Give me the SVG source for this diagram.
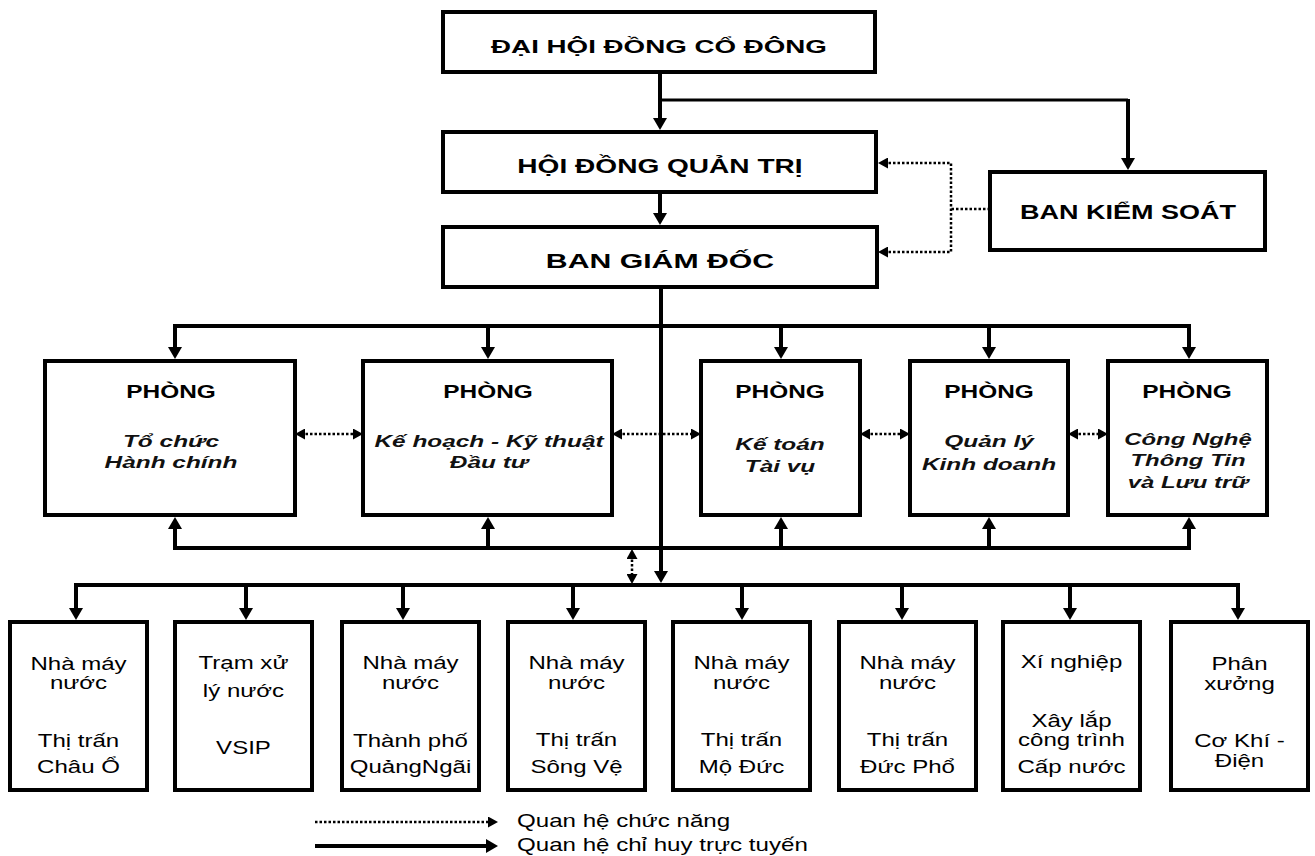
<svg xmlns="http://www.w3.org/2000/svg" width="1315" height="856" viewBox="0 0 1315 856">
<style>
.box{fill:#fff;stroke:#000;stroke-width:4}
.conn{fill:none;stroke:#000;stroke-width:4}
.thin{fill:none;stroke:#000;stroke-width:3}
.dot{fill:none;stroke:#000;stroke-width:2.5;stroke-dasharray:2.5 2}
.ti{font-family:"Liberation Sans",Arial,sans-serif;font-weight:bold;text-anchor:middle;fill:#000}
.ph{font-family:"Liberation Sans",Arial,sans-serif;font-weight:bold;font-size:18.5px;text-anchor:middle;fill:#000}
.it{font-family:"Liberation Sans",Arial,sans-serif;font-weight:bold;font-style:italic;font-size:16.5px;text-anchor:middle;fill:#111}
.sm{font-family:"Liberation Sans",Arial,sans-serif;font-size:18.5px;text-anchor:middle;fill:#000}
.lg{font-family:"Liberation Sans",Arial,sans-serif;font-size:18px;fill:#000}
</style>
<defs>
<marker id="ah" markerUnits="userSpaceOnUse" markerWidth="12" markerHeight="14" refX="6" refY="7" orient="auto-start-reverse"><path d="M0,0 L12,7 L0,14 z" fill="#000"/></marker>
<marker id="ad" markerUnits="userSpaceOnUse" markerWidth="10" markerHeight="11" refX="4" refY="5.5" orient="auto-start-reverse"><path d="M0,0 L10,5.5 L0,11 z" fill="#000"/></marker>
</defs>

<g id="connectors">
<path class="conn" d="M660,72 V124" marker-end="url(#ah)"/>
<path class="thin" d="M660,100 H1128"/>
<path class="conn" d="M1128,99 V164" marker-end="url(#ah)"/>
<path class="conn" d="M660,192 V219" marker-end="url(#ah)"/>
<path class="conn" d="M661,287 V577" marker-end="url(#ah)"/>
<path class="dot" d="M884,163 H951 V252 H884" marker-start="url(#ad)" marker-end="url(#ad)"/>
<path class="dot" d="M990,209 H951"/>
<path class="conn" d="M175,353 V326 H1189 V353" marker-start="url(#ah)" marker-end="url(#ah)"/>
<path class="conn" d="M488,326 V353" marker-end="url(#ah)"/>
<path class="conn" d="M781,326 V353" marker-end="url(#ah)"/>
<path class="conn" d="M989,326 V353" marker-end="url(#ah)"/>
<path class="conn" d="M175,523 V548 H1189 V523" marker-start="url(#ah)" marker-end="url(#ah)"/>
<path class="conn" d="M488,548 V523" marker-end="url(#ah)"/>
<path class="conn" d="M781,548 V523" marker-end="url(#ah)"/>
<path class="conn" d="M989,548 V523" marker-end="url(#ah)"/>
<path class="dot" d="M301,434 H357" marker-start="url(#ad)" marker-end="url(#ad)"/>
<path class="dot" d="M618,434 H695" marker-start="url(#ad)" marker-end="url(#ad)"/>
<path class="dot" d="M866,434 H904" marker-start="url(#ad)" marker-end="url(#ad)"/>
<path class="dot" d="M1074,434 H1102" marker-start="url(#ad)" marker-end="url(#ad)"/>
<path class="dot" d="M632,555 V578" marker-start="url(#ad)" marker-end="url(#ad)"/>
<path class="conn" d="M76,614 V585 H1238 V614" marker-start="url(#ah)" marker-end="url(#ah)"/>
<path class="conn" d="M246,585 V614" marker-end="url(#ah)"/>
<path class="conn" d="M403,585 V614" marker-end="url(#ah)"/>
<path class="conn" d="M573,585 V614" marker-end="url(#ah)"/>
<path class="conn" d="M742,585 V614" marker-end="url(#ah)"/>
<path class="conn" d="M902,585 V614" marker-end="url(#ah)"/>
<path class="conn" d="M1070,585 V614" marker-end="url(#ah)"/>
</g>

<g id="dhdcd">
<rect class="box" x="443" y="12" width="432" height="60"/>
<text class="ti" font-size="19" transform="translate(659,53) scale(1.46,1)">ĐẠI HỘI ĐỒNG CỔ ĐÔNG</text>
</g>
<g id="hdqt">
<rect class="box" x="443" y="132" width="433" height="60"/>
<text class="ti" font-size="19.5" transform="translate(660,173) scale(1.44,1)">HỘI ĐỒNG QUẢN TRỊ</text>
</g>
<g id="bgd">
<rect class="box" x="443" y="227" width="434" height="60"/>
<text class="ti" font-size="21" transform="translate(660,268) scale(1.44,1)">BAN GIÁM ĐỐC</text>
</g>
<g id="bks">
<rect class="box" x="990" y="172" width="275" height="78"/>
<text class="ti" font-size="20" transform="translate(1128,219) scale(1.35,1)">BAN KIỂM SOÁT</text>
</g>

<g id="p1">
<rect class="box" x="45" y="361" width="250" height="154"/>
<text class="ph" transform="translate(171,398) scale(1.32,1)">PHÒNG</text>
<text class="it" transform="translate(171,447) scale(1.48,1)">Tổ chức</text>
<text class="it" transform="translate(171,468) scale(1.48,1)">Hành chính</text>
</g>
<g id="p2">
<rect class="box" x="363" y="361" width="249" height="154"/>
<text class="ph" transform="translate(488,398) scale(1.32,1)">PHÒNG</text>
<text class="it" transform="translate(489,447) scale(1.48,1)">Kế hoạch - Kỹ thuật</text>
<text class="it" transform="translate(489,468) scale(1.48,1)">Đầu tư</text>
</g>
<g id="p3">
<rect class="box" x="701" y="361" width="159" height="154"/>
<text class="ph" transform="translate(780,398) scale(1.32,1)">PHÒNG</text>
<text class="it" transform="translate(780,450) scale(1.48,1)">Kế toán</text>
<text class="it" transform="translate(780,472) scale(1.48,1)">Tài vụ</text>
</g>
<g id="p4">
<rect class="box" x="910" y="361" width="158" height="154"/>
<text class="ph" transform="translate(989,398) scale(1.32,1)">PHÒNG</text>
<text class="it" transform="translate(989,447) scale(1.48,1)">Quản lý</text>
<text class="it" transform="translate(989,470) scale(1.48,1)">Kinh doanh</text>
</g>
<g id="p5">
<rect class="box" x="1108" y="361" width="159" height="154"/>
<text class="ph" transform="translate(1187,398) scale(1.32,1)">PHÒNG</text>
<text class="it" transform="translate(1188,445) scale(1.45,1)">Công Nghệ</text>
<text class="it" transform="translate(1188,466) scale(1.45,1)">Thông Tin</text>
<text class="it" transform="translate(1188,488) scale(1.45,1)">và Lưu trữ</text>
</g>

<g id="b1">
<rect class="box" x="10" y="622" width="137" height="168"/>
<text class="sm" transform="translate(78.5,670) scale(1.3,1)">Nhà máy</text>
<text class="sm" transform="translate(78.5,689) scale(1.3,1)">nước</text>
<text class="sm" transform="translate(78.5,747) scale(1.3,1)">Thị trấn</text>
<text class="sm" transform="translate(78.5,773) scale(1.3,1)">Châu Ổ</text>
</g>
<g id="b2">
<rect class="box" x="175" y="622" width="137" height="168"/>
<text class="sm" transform="translate(243.5,669) scale(1.3,1)">Trạm xử</text>
<text class="sm" transform="translate(243.5,697) scale(1.3,1)">lý nước</text>
<text class="sm" transform="translate(243.5,754) scale(1.3,1)">VSIP</text>
</g>
<g id="b3">
<rect class="box" x="342" y="622" width="137" height="168"/>
<text class="sm" transform="translate(410.5,669) scale(1.3,1)">Nhà máy</text>
<text class="sm" transform="translate(410.5,689) scale(1.3,1)">nước</text>
<text class="sm" transform="translate(410.5,747) scale(1.3,1)">Thành phố</text>
<text class="sm" transform="translate(410.5,773) scale(1.3,1)">QuảngNgãi</text>
</g>
<g id="b4">
<rect class="box" x="508" y="622" width="137" height="168"/>
<text class="sm" transform="translate(576.5,669) scale(1.3,1)">Nhà máy</text>
<text class="sm" transform="translate(576.5,689) scale(1.3,1)">nước</text>
<text class="sm" transform="translate(576.5,746) scale(1.3,1)">Thị trấn</text>
<text class="sm" transform="translate(576.5,773) scale(1.3,1)">Sông Vệ</text>
</g>
<g id="b5">
<rect class="box" x="673" y="622" width="137" height="168"/>
<text class="sm" transform="translate(741.5,669) scale(1.3,1)">Nhà máy</text>
<text class="sm" transform="translate(741.5,689) scale(1.3,1)">nước</text>
<text class="sm" transform="translate(741.5,746) scale(1.3,1)">Thị trấn</text>
<text class="sm" transform="translate(741.5,773) scale(1.3,1)">Mộ Đức</text>
</g>
<g id="b6">
<rect class="box" x="839" y="622" width="137" height="168"/>
<text class="sm" transform="translate(907.5,669) scale(1.3,1)">Nhà máy</text>
<text class="sm" transform="translate(907.5,689) scale(1.3,1)">nước</text>
<text class="sm" transform="translate(907.5,746) scale(1.3,1)">Thị trấn</text>
<text class="sm" transform="translate(907.5,773) scale(1.3,1)">Đức Phổ</text>
</g>
<g id="b7">
<rect class="box" x="1003" y="622" width="137" height="168"/>
<text class="sm" transform="translate(1071.5,668) scale(1.3,1)">Xí nghiệp</text>
<text class="sm" transform="translate(1071.5,727) scale(1.3,1)">Xây lắp</text>
<text class="sm" transform="translate(1071.5,746) scale(1.3,1)">công trình</text>
<text class="sm" transform="translate(1071.5,773) scale(1.3,1)">Cấp nước</text>
</g>
<g id="b8">
<rect class="box" x="1171" y="622" width="137" height="168"/>
<text class="sm" transform="translate(1239.5,670) scale(1.3,1)">Phân</text>
<text class="sm" transform="translate(1239.5,690) scale(1.3,1)">xưởng</text>
<text class="sm" transform="translate(1239.5,747) scale(1.3,1)">Cơ Khí -</text>
<text class="sm" transform="translate(1239.5,767) scale(1.3,1)">Điện</text>
</g>

<g id="legend">
<path class="dot" d="M315,822 H492" marker-end="url(#ad)"/>
<path class="conn" d="M315,846 H492" marker-end="url(#ah)"/>
<text class="lg" transform="translate(517,827) scale(1.34,1)">Quan hệ chức năng</text>
<text class="lg" transform="translate(517,851) scale(1.34,1)">Quan hệ chỉ huy trực tuyến</text>
</g>
</svg>
